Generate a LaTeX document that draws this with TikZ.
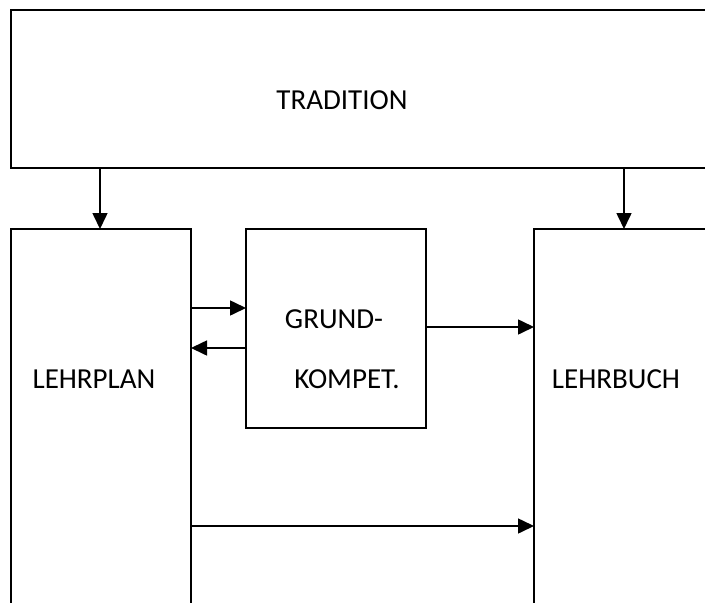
\documentclass[tikz,border=0pt]{standalone}
\usepackage{fontspec}
\setmainfont{Carlito}
\usetikzlibrary{arrows.meta}
\tikzset{
  box/.style={draw, line width=1.6pt, rectangle, inner sep=0pt, outer sep=0pt},
  lbl/.style={inner sep=0pt, font=\fontsize{29}{32}\selectfont},
  arr/.style={line width=1.6pt, -{Triangle[length=16pt,width=15pt]}}
}
\begin{document}
\begin{tikzpicture}[x=1pt, y=-1pt]
  \useasboundingbox (0,0) rectangle (705,603);
  \clip (0,0) rectangle (705,603);
  % boxes (those touching the edge run on past it)
  \node[box, minimum width=749pt, minimum height=158pt] (trad) at (385.5,89) {};
  \node[box, minimum width=180pt, minimum height=431pt] (lp) at (101,444.5) {};
  \node[box, minimum width=180pt, minimum height=199pt] (gk) at (336,328.5) {};
  \node[box, minimum width=226pt, minimum height=431pt] (lb) at (647,444.5) {};
  % labels
  \node[lbl] (tradtxt) at (342,100) {TRADITION};
  \node[lbl] (lptxt) at (94,379) {LEHRPLAN};
  \node[lbl] (gktxt1) at (334,319) {GRUND-};
  \node[lbl] (gktxt2) at (347,379) {KOMPET.};
  \node[lbl] (lbtxt) at (616,379) {LEHRBUCH};
  % connectors
  \draw[arr] (trad.south -| 100,0) -- (lp.north -| 100,0);
  \draw[arr] (trad.south -| 624,0) -- (lb.north -| 624,0);
  \draw[arr] (lp.east |- 0,308) -- (gk.west |- 0,308);
  \draw[arr] (gk.west |- 0,348) -- (lp.east |- 0,348);
  \draw[arr] (gk.east |- 0,327) -- (lb.west |- 0,327);
  \draw[arr] (lp.east |- 0,526) -- (lb.west |- 0,526);
\end{tikzpicture}
\end{document}
